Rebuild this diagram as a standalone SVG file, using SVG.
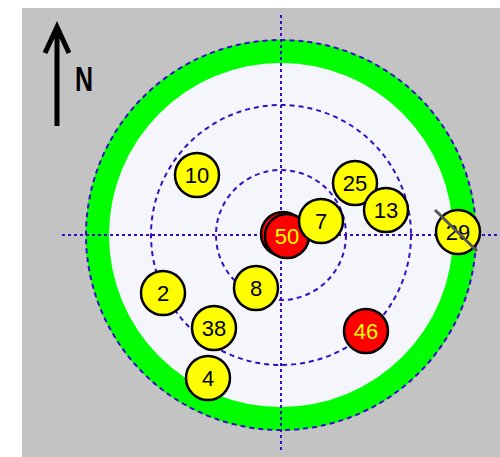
<svg xmlns="http://www.w3.org/2000/svg" width="500" height="457" viewBox="0 0 500 457">
<style>
.grid{fill:none;stroke:#3a0cc8;stroke-width:2}
.ring{stroke-dasharray:5 4}
.ax{stroke-dasharray:3 3}
.y circle{fill:#ffff00;stroke:#000;stroke-width:2.5}
.r circle{fill:#ff0000;stroke:#000;stroke-width:2.5}
text{font-family:"Liberation Sans",Arial,sans-serif;font-size:22px;text-anchor:middle}
.y text{fill:#000}
.r text{fill:#ffff00}
</style>
<rect x="0" y="0" width="500" height="457" fill="#ffffff"/>
<rect x="22" y="8" width="478" height="449" fill="#c3c3c3"/>
<g id="compass">
<path d="M57,126 V28 M45,53 L57,27 L69,53" fill="none" stroke="#000" stroke-width="5"/>
<text x="0" y="0" transform="translate(84,91) scale(1,1.4)" style="font-weight:bold;font-size:25px">N</text>
</g>
<g id="field">
<circle cx="281" cy="235" r="183.5" fill="none" stroke="#00ff00" stroke-width="24"/>
<circle cx="281" cy="235" r="172" fill="#f5f6fc"/>
</g>
<g id="connectors">
<circle class="grid ring" cx="281" cy="235" r="65"/>
<circle class="grid ring" cx="281" cy="235" r="130"/>
<circle class="grid ring" cx="281" cy="235" r="195"/>
<line class="grid ax" x1="62" y1="235" x2="500" y2="235"/>
<line class="grid ax" x1="281" y1="15" x2="281" y2="452"/>
</g>
<g id="n10" class="y"><circle cx="197" cy="175" r="22"/><text x="197" y="183">10</text></g>
<g id="n2" class="y"><circle cx="163" cy="293" r="22"/><text x="163" y="301">2</text></g>
<g id="n8" class="y"><circle cx="256" cy="288" r="22"/><text x="256" y="296">8</text></g>
<g id="n38" class="y"><circle cx="214" cy="328" r="22"/><text x="214" y="336">38</text></g>
<g id="n4" class="y"><circle cx="208" cy="378" r="22"/><text x="208" y="386">4</text></g>
<g id="n46" class="r"><circle cx="366" cy="331" r="22"/><text x="366" y="339">46</text></g>
<g id="n25" class="y"><circle cx="355" cy="183" r="22"/><text x="355" y="191">25</text></g>
<g id="n13" class="y"><circle cx="386" cy="210" r="22"/><text x="386" y="218">13</text></g>
<g id="n29" class="y"><circle cx="458" cy="232" r="22"/><text x="458" y="240">29</text>
<line x1="435" y1="210" x2="477" y2="251" stroke="#555" stroke-width="3"/></g>
<g id="n50" class="r"><circle cx="283" cy="234" r="22"/><circle cx="287" cy="236" r="22"/><text x="287" y="244">50</text></g>
<g id="n7" class="y"><circle cx="321" cy="221" r="22"/><text x="321" y="229">7</text></g>
</svg>
